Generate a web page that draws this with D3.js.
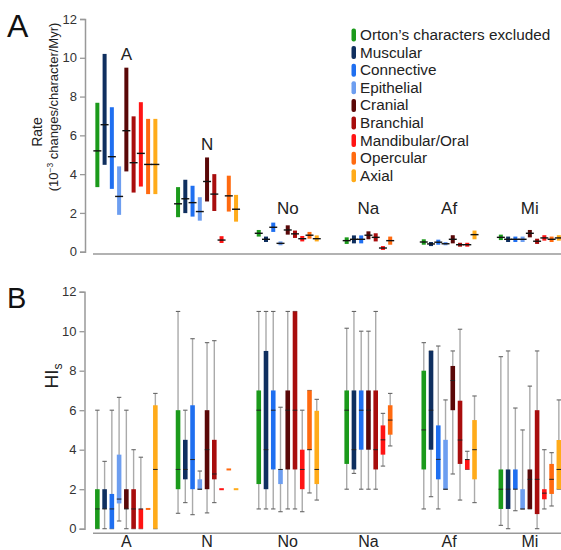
<!DOCTYPE html>
<html>
<head>
<meta charset="utf-8">
<title>Rates and HIs by group</title>
<style>
  html, body { margin: 0; padding: 0; background: #fff; }
  svg { display: block; font-family: Arial, "Liberation Sans", sans-serif; }
  .tick text { font-size: 13px; fill: #333; }
</style>
</head>
<body>
<svg width="561" height="550"></svg>
<script src="https://d3js.org/d3.v7.min.js"></script>
<script>
  // groups along the x axis
  const groups = ["A", "N", "No", "Na", "Af", "Mi"];

  const categories = [
    "Orton\u2019s characters excluded", "Muscular", "Connective", "Epithelial",
    "Cranial", "Branchial", "Mandibular/Oral", "Opercular", "Axial"
  ];

  // rate: [low, median, high], null = category not present in group
  const rateA  = [[3.33,5.2,7.68],[4.48,6.55,10.2],[3.24,4.9,7.45],[1.9,2.85,4.4],[4.14,6.24,9.49],[3.05,4.59,6.98],[3.36,5.07,7.71],[2.97,4.5,6.85],[2.97,4.5,6.85]];
  const rateN  = [[1.78,2.47,3.33],[1.99,2.73,3.71],[1.81,2.53,3.4],[1.6,2.07,2.81],[2.59,3.62,4.86],[2.1,2.97,4.0],[0.45,0.6,0.8],[2.07,2.88,3.92],[1.55,2.19,2.93]];
  const rateNo = [[0.78,0.95,1.12],[0.5,0.64,0.78],[1.02,1.26,1.5],[0.33,0.43,0.53],[0.88,1.12,1.36],[0.71,0.92,1.09],[0.53,0.67,0.81],[0.67,0.85,1.02],[0.53,0.67,0.84]];
  const rateNa = [[0.4,0.57,0.74],[0.43,0.64,0.84],[0.43,0.64,0.84],null,[0.64,0.85,1.05],[0.53,0.74,0.95],[0.09,0.19,0.29],[0.36,0.57,0.78],null];
  const rateAf = [[0.36,0.5,0.64],[0.29,0.4,0.5],[0.36,0.49,0.62],[0.33,0.41,0.5],[0.43,0.64,0.85],[0.26,0.36,0.46],[0.26,0.36,0.46],null,[0.64,0.88,1.09]];
  const rateMi = [[0.6,0.74,0.88],[0.5,0.64,0.78],[0.5,0.64,0.78],[0.5,0.64,0.78],[0.74,0.95,1.12],[0.4,0.54,0.67],[0.57,0.71,0.85],[0.5,0.64,0.78],[0.57,0.71,0.85]];

  // HIs: [whisker low, q1, median, q3, whisker high]
  const hiA  = [[0,0,1,2,6],[0,1,1,2,3.41],[0,0,1,1.76,6],[0.39,1.28,1.5,3.75,6.65],[0,1,1,2,6],[0,0,1,2,4],[0,0,1,1,3.62],[1,1,1,1,1],[0,0,3,6.25,6.85]];
  const hiN  = [[0.78,2,3,6,11],[1.32,2.5,3,4.5,6],[0.71,2,3.5,6.25,9.62],[2,2,2,2.5,2.92],[0.8,2,4,6,9.42],[1.32,2.5,2.77,4.5,9.52],[2,2,2,2,2],[3,3,3,3,3],[2,2,2,2,2]];
  const hiNo = [[1,2.26,6,7,11],[1,2,4,9,11],[1,3,6,7,11],[0.86,2.26,3,3,6.15],[1,3,6,7,11],[1,3,6,11,11],[0.86,2,3,4,6],[1.81,4,4,7,7],[1.45,2.26,3,5.97,6.55]];
  const hiNa = [[2,3.28,6,7,10.15],[2.8,3,4,7,11],[2,4,6,7,10],null,[2,4,6,7,10],[2,3,4,7,11],[3.17,3.75,4.5,5.23,5.84],[4.19,4.76,5.5,6.25,6.85],null];
  const hiAf = [[1,3,5,8,9.42],[1.62,4,6,9,9],[1,2.5,3.51,5.23,9.25],[2,2,2,4.5,6.52],[2.77,6,7.5,8.24,9],[1.45,3.28,4.49,6.48,10.1],[3,3,3.5,3.5,3.92],null,[1.32,2.5,4,5.5,6.72]];
  const hiMi = [[0.17,1,2,3,8.71],[0,1,2,3,9],[0.91,2,2,3,6.11],[1,1,1,2,5],[1,1,2.5,3,7.22],[0,0.74,2.5,6,9],[1,1.49,1.8,2,4],[1.15,1.76,2.5,3.28,3.85],[2,2,3,4.49,6.52]];

  const yTicks = [0, 2, 4, 6, 8, 10, 12];

  const rateData = [rateA, rateN, rateNo, rateNa, rateAf, rateMi];
  const hiData = [hiA, hiN, hiNo, hiNa, hiAf, hiMi];

  const colors = ["#1b9a1b", "#0f2f5f", "#1f6ff0", "#6d9ef0", "#5a0808", "#a80d0d", "#ff1414", "#ff6a10", "#ffab1a"];

  const svg = d3.select("svg");

  const x = d3.scaleBand().domain(groups).range([86, 570.2]);
  const slotStep = 7.25;

  // position of each present category centred in its group
  function slots(rows) {
    const present = rows.map((r, i) => r ? i : -1).filter(i => i >= 0);
    const inner = d3.scalePoint().domain(present)
      .range([-(present.length - 1) * slotStep / 2, (present.length - 1) * slotStep / 2]);
    return present.map(i => ({ i, v: rows[i], dx: inner(i) }));
  }

  // ---------- panel A ----------
  const yA = d3.scaleLinear().domain([0, 12]).range([251.7, 19]);

  svg.append("g")
    .attr("transform", "translate(85,0)")
    .call(d3.axisLeft(yA).tickValues(yTicks).tickSize(5).tickPadding(3))
    .call(g => g.select(".domain").attr("stroke", "#999").attr("stroke-width", 1.5))
    .call(g => g.selectAll(".tick line").attr("stroke", "#999").attr("stroke-width", 1.3));

  svg.append("line").attr("x1", 93).attr("x2", 561).attr("y1", 254).attr("y2", 254)
    .attr("stroke", "#999").attr("stroke-width", 1.5);

  const gA = svg.append("g");
  rateData.forEach((rows, gi) => {
    const cx = x(groups[gi]) + x.bandwidth() / 2;
    slots(rows).forEach(s => {
      const px = cx + s.dx;
      gA.append("rect")
        .attr("x", px - 2).attr("width", 4)
        .attr("y", yA(s.v[2])).attr("height", yA(s.v[0]) - yA(s.v[2]))
        .attr("fill", colors[s.i]);
      gA.append("line")
        .attr("x1", px - 4).attr("x2", px + 4)
        .attr("y1", yA(s.v[1])).attr("y2", yA(s.v[1]))
        .attr("stroke", "#111").attr("stroke-width", 1.4);
    });
  });

  // group labels above the rate bars
  const rateLabelAt = [10.2, 5.55, 2.25, 2.25, 2.25, 2.25];
  groups.forEach((g, gi) => {
    svg.append("text")
      .attr("x", x(g) + x.bandwidth() / 2)
      .attr("y", yA(rateLabelAt[gi]) + 6)
      .attr("text-anchor", "middle")
      .attr("font-size", 17).attr("fill", "#222")
      .text(g);
  });

  svg.append("text")
    .attr("transform", "translate(42,132) rotate(-90)")
    .attr("text-anchor", "middle").attr("font-size", 14).attr("fill", "#222")
    .text("Rate");
  const sub = svg.append("text")
    .attr("transform", "translate(58,107) rotate(-90)")
    .attr("text-anchor", "middle").attr("font-size", 13).attr("fill", "#222");
  sub.append("tspan").text("(10");
  sub.append("tspan").attr("font-size", 8.5).attr("dy", -5).text("\u22123");
  sub.append("tspan").attr("dy", 5).text(" changes/character/Myr)");

  // legend
  const leg = svg.append("g");
  categories.forEach((c, i) => {
    const ly = 35 + i * 17.6;
    leg.append("rect").attr("x", 351.5).attr("y", ly - 6.5).attr("width", 4.5).attr("height", 13)
      .attr("rx", 2).attr("fill", colors[i]);
    leg.append("text").attr("x", 360).attr("y", ly + 5)
      .attr("font-size", 15.3).attr("fill", "#222").text(c);
  });

  svg.append("text").attr("x", 7).attr("y", 37).attr("font-size", 32).attr("fill", "#111").text("A");

  // ---------- panel B ----------
  const yB = d3.scaleLinear().domain([0, 12]).range([528.7, 291.7]);

  svg.append("g")
    .attr("transform", "translate(84.5,0)")
    .call(d3.axisLeft(yB).tickValues(yTicks).tickSize(5).tickPadding(3))
    .call(g => g.select(".domain").attr("stroke", "#999").attr("stroke-width", 1.5))
    .call(g => g.selectAll(".tick line").attr("stroke", "#999").attr("stroke-width", 1.3));

  svg.append("line").attr("x1", 93).attr("x2", 561).attr("y1", 533.3).attr("y2", 533.3)
    .attr("stroke", "#999").attr("stroke-width", 1.5);

  const gB = svg.append("g");
  hiData.forEach((rows, gi) => {
    const cx = x(groups[gi]) + x.bandwidth() / 2;
    slots(rows).forEach(s => {
      const px = cx + s.dx;
      const [w0, q1, md, q3, w1] = s.v;
      if (w1 > w0) {
        gB.append("line").attr("x1", px).attr("x2", px)
          .attr("y1", yB(w0)).attr("y2", yB(w1))
          .attr("stroke", "#aaa").attr("stroke-width", 1.4);
        [w0, w1].forEach(w => gB.append("line")
          .attr("x1", px - 2.2).attr("x2", px + 2.2)
          .attr("y1", yB(w)).attr("y2", yB(w))
          .attr("stroke", "#666").attr("stroke-width", 1.1));
      }
      const h = Math.max(yB(q1) - yB(q3), 2);
      gB.append("rect")
        .attr("x", px - 2.3).attr("width", 4.6)
        .attr("y", q3 > q1 ? yB(q3) : yB(q3) - 1).attr("height", h)
        .attr("fill", colors[s.i]);
      if (q3 > q1) {
        gB.append("line").attr("x1", px - 2.3).attr("x2", px + 2.3)
          .attr("y1", yB(md)).attr("y2", yB(md))
          .attr("stroke", "#222").attr("stroke-width", 1);
      }
    });
  });

  groups.forEach(g => {
    svg.append("text")
      .attr("x", x(g) + x.bandwidth() / 2).attr("y", 547)
      .attr("text-anchor", "middle").attr("font-size", 16).attr("fill", "#222")
      .text(g);
  });

  const hl = svg.append("text")
    .attr("transform", "translate(58,376) rotate(-90)")
    .attr("text-anchor", "middle").attr("font-size", 19).attr("fill", "#222");
  hl.append("tspan").text("HI");
  hl.append("tspan").attr("font-size", 12).attr("dy", 4).text("s");

  svg.append("text").attr("x", 7).attr("y", 308).attr("font-size", 29).attr("fill", "#111").text("B");
</script>
</body>
</html>
